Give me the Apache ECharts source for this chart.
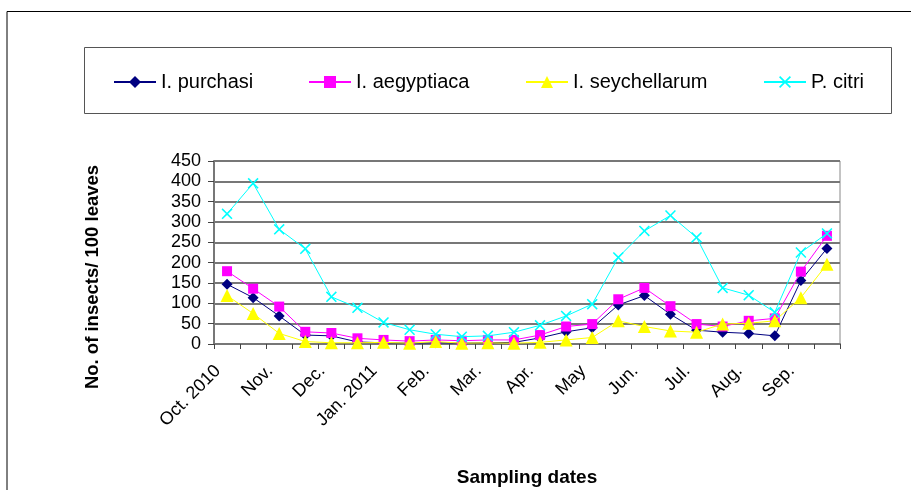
<!DOCTYPE html>
<html><head><meta charset="utf-8">
<script src="https://cdn.jsdelivr.net/npm/echarts@6/dist/echarts.min.js"></script>
<style>html,body{margin:0;padding:0;background:#fff}#c{width:911px;height:490px}</style>
</head><body><div id="c"></div>
<script>
const categories = ["Oct. 2010","","Nov.","","Dec.","","Jan. 2011","","Feb.","","Mar.","","Apr.","","May","","Jun.","","Jul.","","Aug.","","Sep.",""];
const seriesNames = ["I. purchasi","I. aegyptiaca","I. seychellarum","P. citri"];
const purchasi = [147,114,69,22,20,5,3,2,3,2,3,4,15,30,40,96,119,73,34,29,26,20,156,235];
const aegyptiaca = [179,136,92,30,27,14,10,7,10,8,10,10,22,43,49,110,138,93,49,43,57,63,178,266];
const seychellarum = [119,75,26,6,3,3,4,2,6,2,3,2,4,10,16,57,43,32,29,49,51,57,114,196];
const citri = [320,395,282,234,116,89,53,35,24,18,20,29,46,69,98,213,278,316,262,138,120,78,225,272];
const yTicks = [0,50,100,150,200,250,300,350,400,450];
const yTitle = "No. of insects/ 100 leaves";
const xTitle = "Sampling dates";

const FONT = "Arial, 'Liberation Sans', sans-serif";
const xSym = 'path://M0,1 L1,0 L5,4 L9,0 L10,1 L6,5 L10,9 L9,10 L5,6 L1,10 L0,9 L4,5 Z';
const colors = ['#000080','#FF00FF','#FFFF00','#00FFFF'];
const symbols = ['diamond','rect','triangle',xSym];
const sizes = [11,10,13,11];
const datas = [purchasi, aegyptiaca, seychellarum, citri];
const legendLeft = [113,308,525,763];

const chart = echarts.init(document.getElementById('c'), null, {renderer:'canvas'});
chart.setOption({
  animation:false,
  backgroundColor:'#fff',
  grid:{left:214,right:71,top:161,bottom:146,show:true,borderColor:'#888',borderWidth:1,backgroundColor:'transparent'},
  legend: seriesNames.map((n,i)=>({
    data:[n], left:legendLeft[i], top:72, padding:0, itemWidth:42, itemHeight:15, itemGap:5,
    textStyle:{fontFamily:FONT,fontSize:20,color:'#000'}
  })),
  graphic:[
    {type:'polyline',shape:{points:[[7,490],[7,11.5],[911,11.5]]},style:{stroke:'#000',lineWidth:1,fill:null},silent:true},
    {type:'rect',shape:{x:84.5,y:47.5,width:807,height:66},style:{stroke:'#555',lineWidth:1,fill:null},silent:true,z:-1},
    {type:'text',x:93,y:277,rotation:Math.PI/2,silent:true,
     style:{text:yTitle,fontFamily:FONT,fontSize:18.5,fontWeight:'bold',fill:'#000',align:'center',verticalAlign:'middle'}}
  ],
  xAxis:{
    type:'category', data:categories, boundaryGap:true,
    name:xTitle, nameLocation:'middle', nameGap:124,
    nameTextStyle:{fontFamily:FONT,fontSize:19,fontWeight:'bold',color:'#000'},
    axisLine:{lineStyle:{color:'#777',width:2}},
    axisTick:{show:true,interval:0,alignWithLabel:false,length:5,lineStyle:{color:'#444'}},
    axisLabel:{interval:0,rotate:45,margin:15,padding:[0,13,0,0],fontFamily:FONT,fontSize:18,color:'#000'},
    splitLine:{show:false}
  },
  yAxis:{
    type:'value', min:0, max:450, interval:50,
    axisLine:{show:true,lineStyle:{color:'#777',width:2}},
    axisTick:{show:true,length:6,lineStyle:{color:'#444'}},
    axisLabel:{margin:13,fontFamily:FONT,fontSize:18,color:'#000',
      formatter:v=>yTicks.includes(v)?String(v):''},
    splitLine:{show:true,lineStyle:{color:'#777',width:2}}
  },
  series: seriesNames.map((n,i)=>({
    name:n, type:'line', data:datas[i], symbol:symbols[i], symbolSize:sizes[i],
    showAllSymbol:true,
    lineStyle:{color:colors[i],width:1},
    itemStyle:{color:colors[i],borderWidth:0},
    z:2+i
  }))
});
</script></body></html>
